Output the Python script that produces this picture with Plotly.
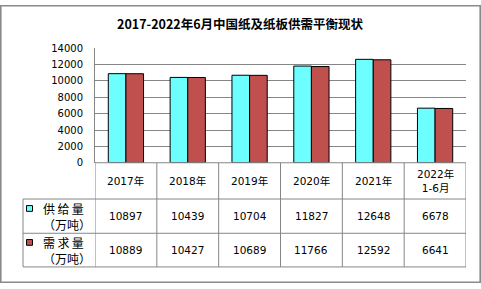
import plotly.graph_objects as go

# ---- data ----
categories = ["2017年", "2018年", "2019年", "2020年", "2021年", "2022年\n1-6月"]
supply = [10897, 10439, 10704, 11827, 12648, 6678]
demand = [10889, 10427, 10689, 11766, 12592, 6641]
series_names = ["供\u2009给\u2009量\n（万吨）", "需\u2009求\u2009量\n（万吨）"]
series_colors = ["#6DFFFF", "#C0504D"]
y_ticks = [0, 2000, 4000, 6000, 8000, 10000, 12000, 14000]
title_text = "2017-2022年6月中国纸及纸板供需平衡现状"

# ---- layout geometry (pixels) ----
W, H = 481, 289
def px(x):
    return x / W
def py(y):
    return 1 - y / H

PLOT_L, PLOT_R, PLOT_T, PLOT_B = 95, 466, 45, 164
ROW_Y = [164, 201.7, 237.3, 272.3]
LEG_L = 23
GRID = "#868686"
FONT = "DejaVu Sans, Noto Sans CJK SC, sans-serif"
CJK = "Noto Sans CJK SC, sans-serif"

idx = list(range(len(categories)))

fig = go.Figure()
for name, vals, col in zip(series_names, [supply, demand], series_colors):
    fig.add_trace(go.Bar(
        x=idx, y=vals, name=name.replace("\n", ""),
        marker=dict(color=col, line=dict(color="black", width=1)),
        showlegend=False, hoverinfo="skip",
    ))

shapes = []
# outer border
shapes.append(dict(type="rect", xref="paper", yref="paper",
                   x0=px(0.8), x1=px(480.2), y0=py(0.8), y1=py(288.2),
                   line=dict(color="#8A8A8A", width=1.6)))
# table vertical lines (category boundaries)
n = len(categories)
for i in range(n + 1):
    shapes.append(dict(type="line", xref="x", yref="paper",
                       x0=i - 0.5, x1=i - 0.5, y0=py(ROW_Y[0]), y1=py(ROW_Y[3]),
                       line=dict(color=GRID, width=1)))
# left legend column vertical
shapes.append(dict(type="line", xref="paper", yref="paper",
                   x0=px(LEG_L), x1=px(LEG_L), y0=py(ROW_Y[1]), y1=py(ROW_Y[3]),
                   line=dict(color=GRID, width=1)))
# horizontal lines
shapes.append(dict(type="line", xref="x", yref="paper",
                   x0=-0.5, x1=n - 0.5, y0=py(ROW_Y[0]), y1=py(ROW_Y[0]),
                   line=dict(color=GRID, width=1)))
for ry in ROW_Y[1:]:
    shapes.append(dict(type="line", xref="paper", yref="paper",
                       x0=px(LEG_L), x1=px(PLOT_R), y0=py(ry), y1=py(ry),
                       line=dict(color=GRID, width=1)))

annotations = []
annotations.append(dict(text="<b>" + title_text + "</b>", xref="paper", yref="paper",
                        x=px(240), y=py(19), showarrow=False,
                        font=dict(family=CJK, size=12.5, color="black"),
                        xanchor="center", yanchor="middle"))
# header labels
hdr_c = (ROW_Y[0] + ROW_Y[1]) / 2
for i, c in enumerate(categories):
    annotations.append(dict(text=c.replace("\n", "<br>"), xref="x", yref="paper",
                            x=i, y=py(hdr_c), showarrow=False,
                            font=dict(family=FONT, size=10.5, color="black"),
                            xanchor="center", yanchor="middle"))
# value rows + legend cells
for r, (vals, name, col) in enumerate(zip([supply, demand], series_names, series_colors)):
    top, bot = ROW_Y[r + 1], ROW_Y[r + 2]
    c = (top + bot) / 2
    for i, v in enumerate(vals):
        annotations.append(dict(text=str(v), xref="x", yref="paper",
                                x=i, y=py(c), showarrow=False,
                                font=dict(family=FONT, size=10.5, color="black"),
                                xanchor="center", yanchor="middle"))
    annotations.append(dict(text=name.replace("\n", "<br>"), xref="paper", yref="paper",
                            x=px(41), y=py(c), showarrow=False, align="left",
                            font=dict(family=CJK, size=12, color="black"),
                            xanchor="left", yanchor="middle"))
    l1 = c - 8
    shapes.append(dict(type="rect", xref="paper", yref="paper",
                       x0=px(26.5), x1=px(32.5), y0=py(l1 - 3), y1=py(l1 + 3),
                       fillcolor=col, line=dict(color="black", width=1)))

fig.update_layout(
    width=W, height=H,
    margin=dict(l=0, r=0, t=0, b=0),
    paper_bgcolor="white", plot_bgcolor="white",
    barmode="group", bargap=0.43, bargroupgap=0,
    shapes=shapes, annotations=annotations,
    xaxis=dict(domain=[px(PLOT_L), px(PLOT_R)], range=[-0.5, n - 0.5],
               showticklabels=False, showgrid=False, zeroline=False,
               showline=False, ticks=""),
    yaxis=dict(domain=[py(PLOT_B), py(PLOT_T)], range=[0, 14000],
               tickvals=y_ticks, ticktext=[str(t) for t in y_ticks],
               showgrid=True, gridcolor=GRID, gridwidth=1,
               zeroline=False, showline=True, linecolor=GRID, linewidth=1,
               ticks="", ticklabelstandoff=9,
               tickfont=dict(family=FONT, size=10, color="black")),
)

fig.write_html("out.html")
